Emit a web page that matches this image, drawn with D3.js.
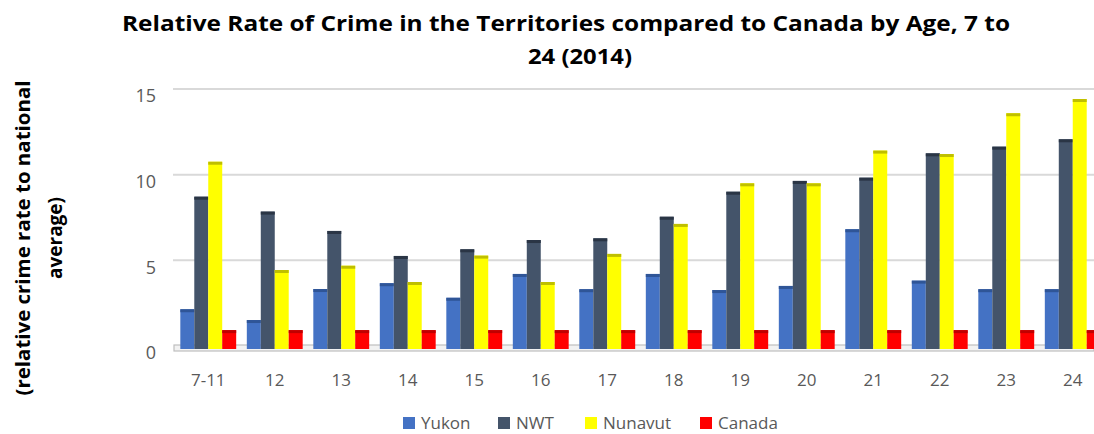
<!DOCTYPE html>
<html>
<head>
<meta charset="utf-8">
<title>Relative Rate of Crime</title>
<script src="https://cdn.jsdelivr.net/npm/d3@7"></script>
<style>
  body { margin: 0; background: #fff; }
  svg { display: block; }
  .tick-y text { font-family: "Open Sans", sans-serif; font-size: 18px; fill: #595959; }
  .tick-x text { font-family: "Liberation Sans Narrow", "Open Sans", sans-serif; font-size: 17px; fill: #595959; }
  .legend text { font-family: "Open Sans", sans-serif; font-size: 17px; fill: #595959; }
  .title { font-family: "Open Sans", sans-serif; font-weight: bold; font-size: 22px; fill: #000; }
  .ytitle { font-family: "Open Sans", sans-serif; font-weight: bold; font-size: 19px; fill: #000; }
</style>
</head>
<body>
<script>
// data
var ages = ["7-11", "12", "13", "14", "15", "16", "17", "18", "19", "20", "21", "22", "23", "24"];
var seriesNames = ["Yukon", "NWT", "Nunavut", "Canada"];
var yukon   = [2.32, 1.69, 3.50, 3.84, 2.99, 4.38, 3.49, 4.38, 3.44, 3.68, 6.99, 3.99, 3.49, 3.49];
var nwt     = [8.89, 8.02, 6.89, 5.43, 5.82, 6.36, 6.46, 7.72, 9.18, 9.81, 10.0, 11.42, 11.81, 12.24];
var nunavut = [10.93, 4.61, 4.86, 3.91, 5.45, 3.91, 5.55, 7.30, 9.67, 9.67, 11.58, 11.38, 13.76, 14.59];
var canada  = [1.1, 1.1, 1.1, 1.1, 1.1, 1.1, 1.1, 1.1, 1.1, 1.1, 1.1, 1.1, 1.1, 1.1];
var yTicks = [0, 5, 10, 15];

var colors = ["#4472C4", "#44546A", "#FFFF00", "#FF0000"];
var capColors = ["#2F5597", "#2A3545", "#BFBF00", "#C00000"];

var w = 1094, h = 434;
var depth = 3; // fake 3d: bars sit a little in front of the back wall

var svg = d3.select("body").append("svg")
    .attr("width", w)
    .attr("height", h);

var x = d3.scaleBand()
    .domain(ages)
    .range([175, 1106])
    .paddingInner(0.16)
    .paddingOuter(0.08);

var xSub = d3.scaleBand()
    .domain(seriesNames)
    .range([0, x.bandwidth()]);

var y = d3.scaleLinear()
    .domain([0, 15])
    .range([346, 89]);

// gridlines on the back wall
svg.append("g")
    .selectAll("line")
    .data(yTicks.filter(function(d) { return d > 0; }))
    .enter().append("line")
    .attr("x1", 173).attr("x2", w)
    .attr("y1", function(d) { return y(d); })
    .attr("y2", function(d) { return y(d); })
    .attr("stroke", "#d9d9d9")
    .attr("stroke-width", 2);

// floor
svg.append("rect")
    .attr("x", 174).attr("y", y(0) - 1)
    .attr("width", w - 174).attr("height", depth + 3)
    .attr("fill", "#f2f2f2")
    .attr("stroke", "#bfbfbf")
    .attr("stroke-width", 1.2);

// y axis labels
var yAxis = d3.axisLeft(y).tickValues(yTicks).tickSize(0).tickPadding(0);
var gy = svg.append("g")
    .attr("class", "tick-y")
    .attr("transform", "translate(156,7)")
    .call(yAxis);
gy.select(".domain").remove();

// x axis labels
var xAxis = d3.axisBottom(x).tickSize(0).tickPadding(0);
var gx = svg.append("g")
    .attr("class", "tick-x")
    .attr("transform", "translate(0,374)")
    .call(xAxis);
gx.select(".domain").remove();

// bars
var table = ages.map(function(a, i) {
    return { age: a, values: [yukon[i], nwt[i], nunavut[i], canada[i]] };
});

var groups = svg.append("g")
    .attr("transform", "translate(0," + depth + ")")
    .selectAll("g")
    .data(table)
    .enter().append("g")
    .attr("transform", function(d) { return "translate(" + x(d.age) + ",0)"; });

var bars = groups.selectAll("g")
    .data(function(d) {
        return d.values.map(function(v, j) { return { name: seriesNames[j], value: v, j: j }; });
    })
    .enter().append("g");

bars.append("rect")
    .attr("x", function(d) { return xSub(d.name); })
    .attr("y", function(d) { return y(d.value); })
    .attr("width", xSub.bandwidth())
    .attr("height", function(d) { return y(0) - y(d.value); })
    .attr("fill", function(d) { return colors[d.j]; });

bars.append("rect")
    .attr("x", function(d) { return xSub(d.name); })
    .attr("y", function(d) { return y(d.value); })
    .attr("width", xSub.bandwidth())
    .attr("height", 3)
    .attr("fill", function(d) { return capColors[d.j]; });

// title
svg.append("text")
    .attr("class", "title")
    .attr("x", 566).attr("y", 31)
    .attr("text-anchor", "middle")
    .attr("textLength", 888)
    .attr("lengthAdjust", "spacingAndGlyphs")
    .text("Relative Rate of Crime in the Territories compared to Canada by Age, 7 to");
svg.append("text")
    .attr("class", "title")
    .attr("x", 580).attr("y", 64)
    .attr("text-anchor", "middle")
    .attr("textLength", 104)
    .attr("lengthAdjust", "spacingAndGlyphs")
    .text("24 (2014)");

// y axis title (two lines)
svg.append("text")
    .attr("class", "ytitle")
    .attr("transform", "translate(30,238) rotate(-90)")
    .attr("text-anchor", "middle")
    .attr("textLength", 315)
    .attr("lengthAdjust", "spacingAndGlyphs")
    .text("(relative crime rate to national");
svg.append("text")
    .attr("class", "ytitle")
    .attr("transform", "translate(62,238) rotate(-90)")
    .attr("text-anchor", "middle")
    .text("average)");

// legend
var legendX = [403, 498, 585, 700];
var legend = svg.append("g")
    .attr("class", "legend")
    .selectAll("g")
    .data(seriesNames)
    .enter().append("g")
    .attr("transform", function(d, i) { return "translate(" + legendX[i] + ",417)"; });

legend.append("rect")
    .attr("width", 12).attr("height", 12)
    .attr("fill", function(d, i) { return colors[i]; });

legend.append("text")
    .attr("x", 18).attr("y", 12)
    .text(function(d) { return d; });
</script>
</body>
</html>
